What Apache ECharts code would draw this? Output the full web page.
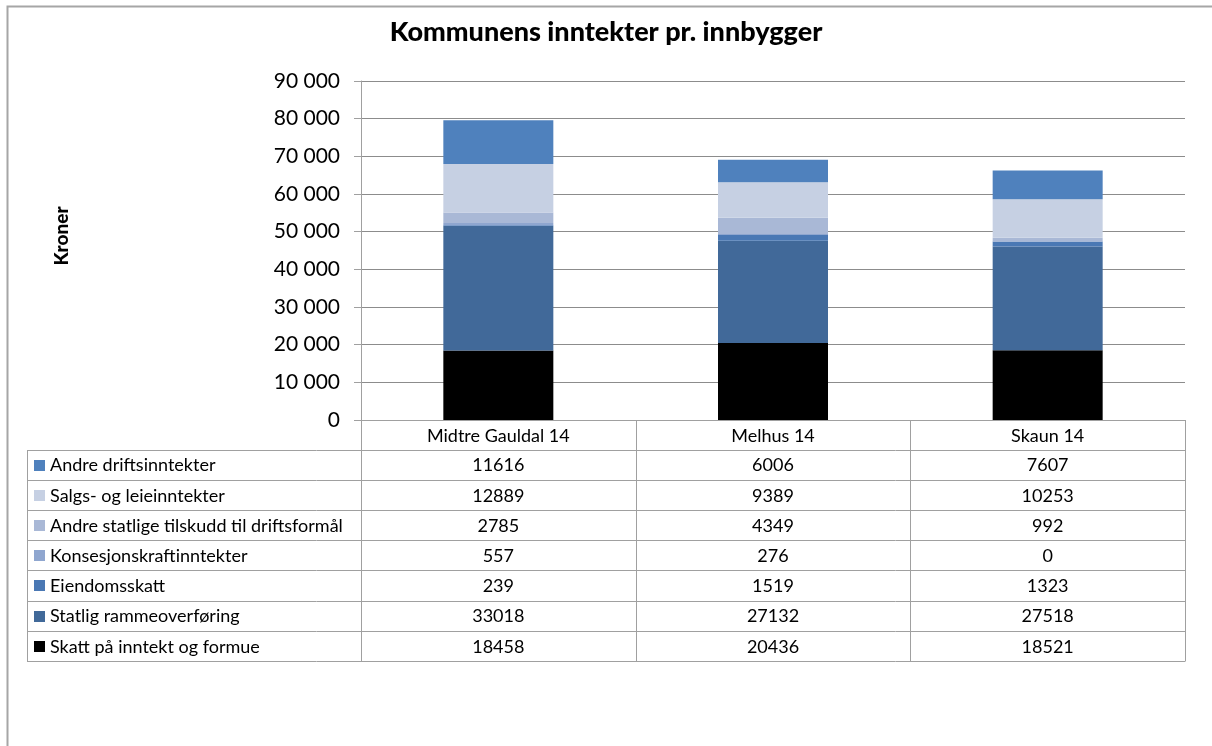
<!DOCTYPE html>
<html>
<head>
<meta charset="utf-8">
<script src="https://cdn.jsdelivr.net/npm/echarts@6/dist/echarts.min.js"></script>
<style>
  html, body { margin: 0; padding: 0; background: #fff; }
  #chart { width: 1212px; height: 746px; }
</style>
</head>
<body>
<div id="chart"></div>
<script>
// 数据
const categories = ['Midtre Gauldal 14', 'Melhus 14', 'Skaun 14'];
const seriesNames = [
    'Skatt på inntekt og formue',
    'Statlig rammeoverføring',
    'Eiendomsskatt',
    'Konsesjonskraftinntekter',
    'Andre statlige tilskudd til driftsformål',
    'Salgs- og leieinntekter',
    'Andre driftsinntekter'
];
const skatt = [18458, 20436, 18521];
const statlig = [33018, 27132, 27518];
const eiendomsskatt = [239, 1519, 1323];
const konsesjon = [557, 276, 0];
const andreStatlige = [2785, 4349, 992];
const salgs = [12889, 9389, 10253];
const andreDrift = [11616, 6006, 7607];
const seriesValues = [skatt, statlig, eiendomsskatt, konsesjon, andreStatlige, salgs, andreDrift];
const yTicks = [0, 10000, 20000, 30000, 40000, 50000, 60000, 70000, 80000, 90000];

const colors = ['#000000', '#416999', '#4a78b4', '#8fa6cf', '#a9b8d6', '#c6d0e3', '#4f81bd'];
const FONT = 'Lato';
const lineColor = '#a0a0a0';

const chart = echarts.init(document.getElementById('chart'));

const gridLeft = 361, gridRight = 1185, gridTop = 81, gridBottom = 420;

const option = {
    backgroundColor: '#fff',
    animation: false,
    title: {
        text: 'Kommunens inntekter pr. innbygger',
        left: 'center',
        top: 14,
        textStyle: { fontFamily: FONT, fontSize: 27, fontWeight: 900, color: '#000' }
    },
    grid: {
        left: gridLeft,
        top: gridTop,
        width: gridRight - gridLeft,
        height: gridBottom - gridTop
    },
    xAxis: {
        type: 'category',
        data: categories,
        axisLine: { lineStyle: { color: lineColor, width: 1 } },
        axisTick: { show: false },
        axisLabel: { show: false }
    },
    yAxis: {
        type: 'value',
        min: yTicks[0],
        max: yTicks[yTicks.length - 1],
        interval: 10000,
        axisLine: { show: true, lineStyle: { color: lineColor, width: 1 } },
        axisTick: { show: true, length: 7, lineStyle: { color: lineColor } },
        splitLine: { lineStyle: { color: '#8c8c8c', width: 1 } },
        axisLabel: {
            margin: 21,
            fontFamily: FONT,
            fontSize: 21,
            color: '#000',
            formatter: v => String(v).replace(/\B(?=(\d{3})+(?!\d))/g, ' ')
        }
    },
    series: seriesNames.map((name, i) => ({
        name: name,
        type: 'bar',
        stack: 'total',
        barWidth: 110,
        data: seriesValues[i],
        itemStyle: { color: colors[i] }
    }))
};

chart.setOption(option);

// 数据表格
function buildTable() {
    const rowH = 30.2;
    const headTop = gridBottom;
    const headBottom = headTop + 29.5;
    const tableLeft = 27;
    const nRows = seriesNames.length;
    const tableBottom = headBottom + rowH * nRows;
    const colW = (gridRight - gridLeft) / categories.length;
    const els = [];
    const lineStyle = { stroke: lineColor, lineWidth: 1 };
    const cellFont = '18px ' + FONT;

    // 外框
    els.push({ type: 'rect', shape: { x: 7.5, y: 6.5, width: 1220, height: 760 },
        style: { fill: null, stroke: '#a6a6a6', lineWidth: 2 }, silent: true });

    // Y轴标题
    els.push({ type: 'text', x: 62, y: 236, rotation: Math.PI / 2,
        style: { text: 'Kroner', fill: '#000', font: '900 19px ' + FONT, align: 'center', verticalAlign: 'middle' } });

    // 横线
    for (let r = 0; r <= nRows; r++) {
        const y = Math.round(headBottom + r * rowH) + 0.5;
        els.push({ type: 'line', shape: { x1: tableLeft, y1: y, x2: gridRight, y2: y }, style: lineStyle });
    }
    // 竖线
    els.push({ type: 'line', shape: { x1: tableLeft + 0.5, y1: Math.round(headBottom) + 0.5, x2: tableLeft + 0.5, y2: Math.round(tableBottom) + 0.5 }, style: lineStyle });
    for (let c = 0; c <= categories.length; c++) {
        const x = Math.round(gridLeft + c * colW) + 0.5;
        els.push({ type: 'line', shape: { x1: x, y1: headTop, x2: x, y2: Math.round(tableBottom) + 0.5 }, style: lineStyle });
    }

    // 表头
    categories.forEach((cat, c) => {
        const cx = chart.convertToPixel({ xAxisIndex: 0 }, cat);
        els.push({ type: 'text', x: cx, y: (headTop + headBottom) / 2 + 1,
            style: { text: cat, fill: '#000', font: cellFont, align: 'center', verticalAlign: 'middle' } });
    });

    // 行：顶部为最后一个系列
    for (let r = 0; r < nRows; r++) {
        const si = nRows - 1 - r;
        const cy = headBottom + r * rowH + rowH / 2 + 1;
        els.push({ type: 'rect', shape: { x: 34, y: Math.round(cy) - 6, width: 11, height: 11 },
            style: { fill: colors[si] } });
        els.push({ type: 'text', x: 50, y: cy,
            style: { text: seriesNames[si], fill: '#000', font: cellFont, align: 'left', verticalAlign: 'middle' } });
        categories.forEach((cat, c) => {
            const cx = chart.convertToPixel({ xAxisIndex: 0 }, cat);
            els.push({ type: 'text', x: cx, y: cy,
                style: { text: String(seriesValues[si][c]), fill: '#000', font: cellFont, align: 'center', verticalAlign: 'middle' } });
        });
    }

    chart.setOption({ graphic: { elements: els } });
}

buildTable();
</script>
</body>
</html>
